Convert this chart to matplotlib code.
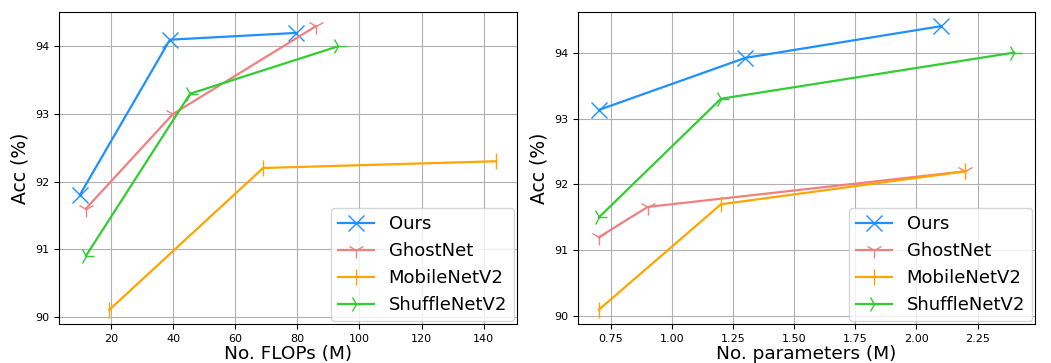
import matplotlib.pyplot as plt

names = ['Ours', 'GhostNet', 'MobileNetV2', 'ShuffleNetV2']
colors = ['#1E90FF', '#F08080', '#FFA500', '#32CD32']
markers = ['x', '1', '|', '4']

# Acc vs FLOPs
flops = {
    'Ours': [10, 39, 79.5],
    'GhostNet': [12, 40, 86],
    'MobileNetV2': [19.5, 69, 144],
    'ShuffleNetV2': [12, 45.5, 93],
}
acc_flops = {
    'Ours': [91.8, 94.1, 94.2],
    'GhostNet': [91.6, 93.0, 94.3],
    'MobileNetV2': [90.1, 92.2, 92.3],
    'ShuffleNetV2': [90.9, 93.3, 94.0],
}

# Acc vs parameters
params = {
    'Ours': [0.7, 1.3, 2.1],
    'GhostNet': [0.7, 0.9, 2.2],
    'MobileNetV2': [0.7, 1.2, 2.2],
    'ShuffleNetV2': [0.7, 1.2, 2.4],
}
acc_params = {
    'Ours': [93.13, 93.92, 94.4],
    'GhostNet': [91.2, 91.66, 92.2],
    'MobileNetV2': [90.1, 91.7, 92.2],
    'ShuffleNetV2': [91.5, 93.3, 94.0],
}

fig = plt.figure(figsize=(10.51, 3.63), dpi=100)
ax1 = fig.add_axes([59 / 1051, 39 / 363, 458 / 1051, 312 / 363])
ax2 = fig.add_axes([578 / 1051, 39 / 363, 457 / 1051, 312 / 363])

for ax, xs, ys, xlabel in [(ax1, flops, acc_flops, 'No. FLOPs (M)'),
                           (ax2, params, acc_params, 'No. parameters (M)')]:
    for name, c, m in zip(names, colors, markers):
        ax.plot(xs[name], ys[name], color=c, marker=m, markersize=12,
                linewidth=1.6, label=name)
    ax.grid(True)
    ax.set_yticks([90, 91, 92, 93, 94])
    ax.tick_params(labelsize=8)
    ax.set_xlabel(xlabel, fontsize=13.3, labelpad=1)
    ax.set_ylabel('Acc (%)', fontsize=13.5)
    ax.legend(loc='lower right', fontsize=13, borderaxespad=0.15)

ax2.set_xticks([0.75, 1.0, 1.25, 1.5, 1.75, 2.0, 2.25])

plt.savefig('out.png')
